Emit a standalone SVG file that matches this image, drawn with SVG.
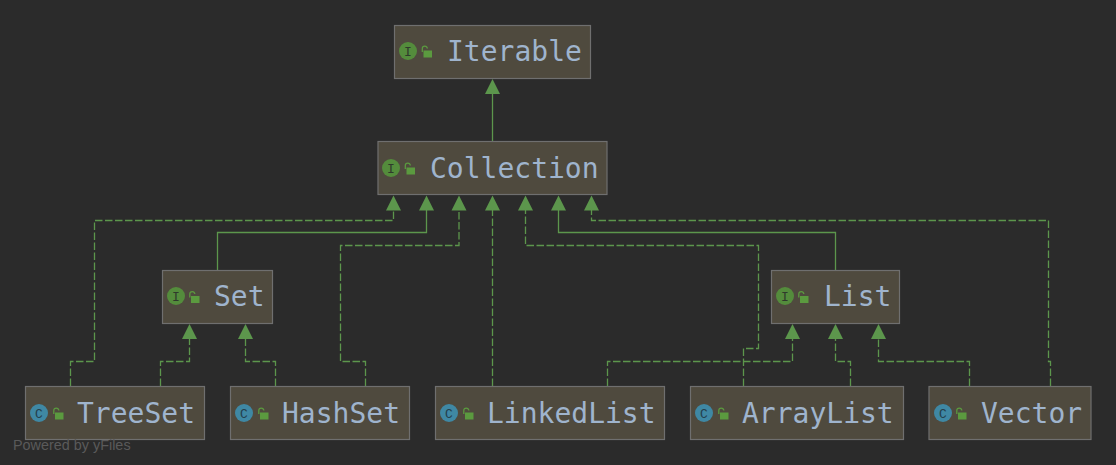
<svg xmlns="http://www.w3.org/2000/svg" xmlns:xlink="http://www.w3.org/1999/xlink" width="1116" height="465" viewBox="0 0 1116 465">
<style>
.box{fill:#4f4a3e;stroke:#6f6f6f;stroke-width:1.2}
.name{font-family:"DejaVu Sans Mono","Liberation Mono",monospace;font-size:28px;fill:#9fb4cd}
.ii{fill:#548c3c}
.ci{fill:#3f88a4}
.gl{font-family:"Liberation Mono",monospace;font-size:13px;fill:#2f3a2c;text-anchor:middle}
.gc{fill:#24404c}
.solid,.dash{fill:none;stroke:#5c964c;stroke-width:1.3}
.dash{stroke-dasharray:7.5 2.5}
.arrow{fill:#5c964c}
.wm{font-family:"Liberation Sans",Arial,sans-serif;font-size:14.4px;fill:#5a5a5a}
</style>
<defs>
<g id="lock"><rect x="2" y="5" width="8.5" height="7" fill="#5b9a3f"/><path d="M.8 6.5V3.2Q.8 .6 3.3 .6Q5.5 .6 5.9 3" fill="none" stroke="#5b9a3f" stroke-width="1.3"/></g>
<polygon id="ah" class="arrow" points="0,0 7.5,15 -7.5,15"/>
</defs>
<rect width="1116" height="465" fill="#2b2b2b"/>
<g id="connectors">
<path class="solid" d="M492.5 141V92"/>
<path class="dash" d="M70.5 386V361.5H94.5V220.5H393.5V208"/>
<path class="solid" d="M217.5 270V232.5H426.5V208"/>
<path class="dash" d="M365.5 386V361.5H340.5V245.5H459V208"/>
<path class="dash" d="M492.5 386V208"/>
<path class="dash" d="M743.5 386V348.5H758.5V245.5H525.5V208"/>
<path class="solid" d="M835.5 270V232.5H558.5V208"/>
<path class="dash" d="M1050.5 386V361.5H1048.5V220.5H591.5V208"/>
<path class="dash" d="M160.5 386V361.5H189.5V337"/>
<path class="dash" d="M275.5 386V361.5H245.5V337"/>
<path class="dash" d="M607.5 386V361.5H792.5V337"/>
<path class="dash" d="M850.5 386V361.5H835.5V337"/>
<path class="dash" d="M969.5 386V361.5H878.5V337"/>
<use xlink:href="#ah" href="#ah" x="492.5" y="79"/>
<use xlink:href="#ah" href="#ah" x="393.5" y="195.5"/>
<use xlink:href="#ah" href="#ah" x="426.5" y="195.5"/>
<use xlink:href="#ah" href="#ah" x="459" y="195.5"/>
<use xlink:href="#ah" href="#ah" x="492.5" y="195.5"/>
<use xlink:href="#ah" href="#ah" x="525.5" y="195.5"/>
<use xlink:href="#ah" href="#ah" x="558.5" y="195.5"/>
<use xlink:href="#ah" href="#ah" x="591.5" y="195.5"/>
<use xlink:href="#ah" href="#ah" x="189.5" y="324"/>
<use xlink:href="#ah" href="#ah" x="245.5" y="324"/>
<use xlink:href="#ah" href="#ah" x="792.5" y="324"/>
<use xlink:href="#ah" href="#ah" x="835.5" y="324"/>
<use xlink:href="#ah" href="#ah" x="878.5" y="324"/>
</g>
<g id="Iterable"><rect class="box" x="394.5" y="25.5" width="196" height="53"/><circle class="ii" cx="408" cy="51" r="9"/><text class="gl" x="408" y="55.5">I</text><use xlink:href="#lock" href="#lock" x="421.5" y="45.5"/><text class="name" x="447" y="61">Iterable</text></g>
<g id="Collection"><rect class="box" x="378" y="141.5" width="229" height="53"/><circle class="ii" cx="391" cy="168" r="9"/><text class="gl" x="391" y="172.5">I</text><use xlink:href="#lock" href="#lock" x="404.5" y="162.5"/><text class="name" x="430" y="178">Collection</text></g>
<g id="Set"><rect class="box" x="162.5" y="270.5" width="110" height="53"/><circle class="ii" cx="176" cy="296" r="9"/><text class="gl" x="176" y="300.5">I</text><use xlink:href="#lock" href="#lock" x="189" y="291"/><text class="name" x="214" y="306">Set</text></g>
<g id="List"><rect class="box" x="771.5" y="270.5" width="128" height="53"/><circle class="ii" cx="785" cy="296" r="9"/><text class="gl" x="785" y="300.5">I</text><use xlink:href="#lock" href="#lock" x="798" y="291"/><text class="name" x="824" y="306">List</text></g>
<g id="TreeSet"><rect class="box" x="25.5" y="386.5" width="179" height="53"/><circle class="ci" cx="39" cy="413" r="9"/><text class="gl gc" x="39" y="417.5">C</text><use xlink:href="#lock" href="#lock" x="53" y="407.5"/><text class="name" x="77" y="423">TreeSet</text></g>
<g id="HashSet"><rect class="box" x="230.5" y="386.5" width="179" height="53"/><circle class="ci" cx="244" cy="413" r="9"/><text class="gl gc" x="244" y="417.5">C</text><use xlink:href="#lock" href="#lock" x="258" y="407.5"/><text class="name" x="282" y="423">HashSet</text></g>
<g id="LinkedList"><rect class="box" x="435.5" y="386.5" width="229" height="53"/><circle class="ci" cx="449" cy="413" r="9"/><text class="gl gc" x="449" y="417.5">C</text><use xlink:href="#lock" href="#lock" x="463" y="407.5"/><text class="name" x="487" y="423">LinkedList</text></g>
<g id="ArrayList"><rect class="box" x="690.5" y="386.5" width="213" height="53"/><circle class="ci" cx="704" cy="413" r="9"/><text class="gl gc" x="704" y="417.5">C</text><use xlink:href="#lock" href="#lock" x="718" y="407.5"/><text class="name" x="742" y="423">ArrayList</text></g>
<g id="Vector"><rect class="box" x="929" y="386.5" width="162" height="53"/><circle class="ci" cx="943" cy="413" r="9"/><text class="gl gc" x="943" y="417.5">C</text><use xlink:href="#lock" href="#lock" x="956" y="407.5"/><text class="name" x="981" y="423">Vector</text></g>
<text class="wm" x="13" y="450">Powered by yFiles</text>
</svg>
